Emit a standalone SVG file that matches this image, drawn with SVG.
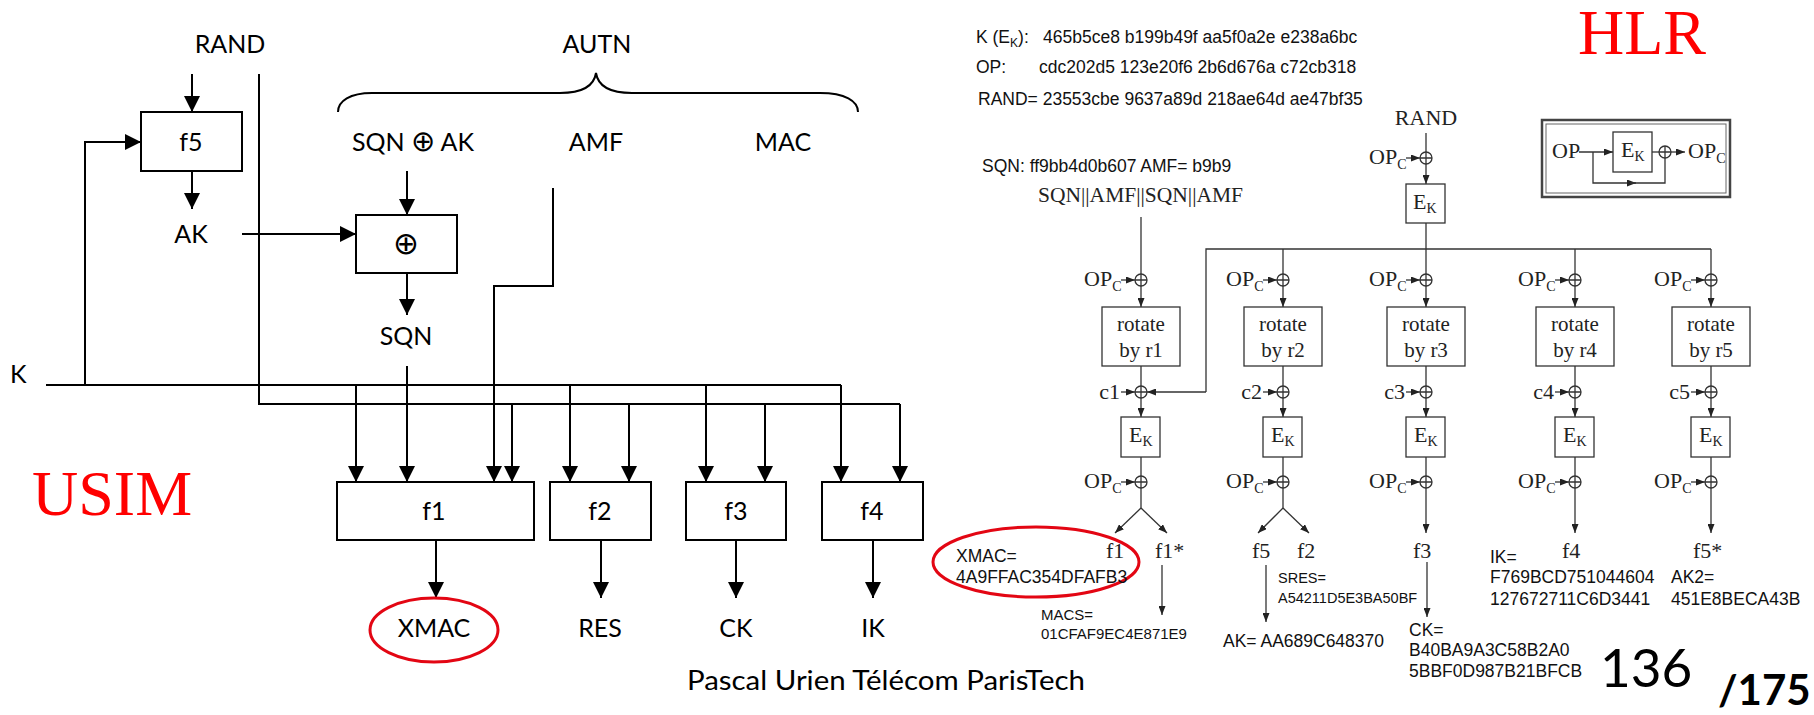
<svg xmlns="http://www.w3.org/2000/svg" width="1814" height="715" viewBox="0 0 1814 715">
<defs>
<marker id="ah" viewBox="0 0 16 16" refX="16" refY="8" markerWidth="16" markerHeight="16" markerUnits="userSpaceOnUse" orient="auto"><path d="M0,0 L16,8 L0,16 z" fill="#000"/></marker>
<marker id="as" viewBox="0 0 9 7" refX="9" refY="3.5" markerWidth="9" markerHeight="7" markerUnits="userSpaceOnUse" orient="auto"><path d="M0,0 L9,3.5 L0,7 z" fill="#222"/></marker>
<g id="xo"><circle cx="0" cy="0" r="6" fill="#fff" stroke="#333" stroke-width="1.3"/><path d="M-6,0 H6 M0,-6 V6" stroke="#333" stroke-width="1.3"/></g>
</defs>
<style>
.L{stroke:#000;stroke-width:2;fill:none}
.R{stroke:#333;stroke-width:1.3;fill:none}
.box{fill:#fff;stroke:#000;stroke-width:2}
.rbox{fill:#fff;stroke:#333;stroke-width:1.3}
.cal{font-family:Lato,"DejaVu Sans",sans-serif;font-size:25px;fill:#000}
.sym{font-family:"DejaVu Sans",sans-serif;font-weight:200}
.tm{font-family:"Liberation Serif","Times New Roman",serif;font-size:22px;fill:#222}
.sub{font-size:14px}
.ar{font-family:"Liberation Sans",Arial,sans-serif;font-size:17.5px;fill:#111}
.red{font-family:"Liberation Serif","Times New Roman",serif;font-size:64px;fill:#f00}
.ell{fill:none;stroke:#e30613;stroke-width:3}
</style>
<rect width="1814" height="715" fill="#fff"/>

<!-- ================= LEFT: USIM ================= -->
<g id="connectors-left">
<path class="L" d="M192,74 V112" marker-end="url(#ah)"/>
<path class="L" d="M192,171 V209" marker-end="url(#ah)"/>
<path class="L" d="M242,234 H356" marker-end="url(#ah)"/>
<path class="L" d="M85,385 V142 H141" marker-end="url(#ah)"/>
<path class="L" d="M46,385 H841"/>
<path class="L" d="M259,74 V404 H900"/>
<path class="L" d="M407,171 V215" marker-end="url(#ah)"/>
<path class="L" d="M407,273 V315" marker-end="url(#ah)"/>
<path class="L" d="M407,366 V482" marker-end="url(#ah)"/>
<path class="L" d="M553,188 V286 H494 V482" marker-end="url(#ah)"/>
<path class="L" d="M356,385 V482" marker-end="url(#ah)"/>
<path class="L" d="M570,385 V482" marker-end="url(#ah)"/>
<path class="L" d="M706,385 V482" marker-end="url(#ah)"/>
<path class="L" d="M841,385 V482" marker-end="url(#ah)"/>
<path class="L" d="M512,404 V482" marker-end="url(#ah)"/>
<path class="L" d="M629,404 V482" marker-end="url(#ah)"/>
<path class="L" d="M765,404 V482" marker-end="url(#ah)"/>
<path class="L" d="M900,404 V482" marker-end="url(#ah)"/>
<path class="L" d="M436,540 V598" marker-end="url(#ah)"/>
<path class="L" d="M601,540 V598" marker-end="url(#ah)"/>
<path class="L" d="M736,540 V598" marker-end="url(#ah)"/>
<path class="L" d="M873,540 V598" marker-end="url(#ah)"/>
<path class="L" d="M338,112 C338,101 350,93 372,93 L560,93 C582,93 594,86 596,73 C598,86 610,93 632,93 L820,93 C845,93 858,101 858,112" stroke-width="2"/>
</g>

<g id="usim-labels">
<text class="cal" x="230" y="53" text-anchor="middle">RAND</text>
<text class="cal" x="597" y="53" text-anchor="middle">AUTN</text>
<text class="cal" x="413" y="151" text-anchor="middle">SQN <tspan class="sym" style="font-size:29px">⊕</tspan> AK</text>
<text class="cal" x="596" y="151" text-anchor="middle">AMF</text>
<text class="cal" x="783" y="151" text-anchor="middle">MAC</text>
<text class="cal" x="191" y="243" text-anchor="middle">AK</text>
<text class="cal" x="406" y="345" text-anchor="middle">SQN</text>
<text class="cal" x="10" y="383">K</text>
<text class="red" x="32" y="515">USIM</text>
</g>

<g id="f5"><rect class="box" x="141" y="112" width="101" height="59"/><text class="cal" x="191" y="151" text-anchor="middle">f5</text></g>
<g id="xor"><rect class="box" x="356" y="215" width="101" height="58"/><text class="cal sym" x="406" y="254" text-anchor="middle" style="font-size:31px">⊕</text></g>
<g id="f1"><rect class="box" x="337" y="482" width="197" height="58"/><text class="cal" x="434" y="520" text-anchor="middle">f1</text></g>
<g id="f2"><rect class="box" x="550" y="482" width="101" height="58"/><text class="cal" x="600" y="520" text-anchor="middle">f2</text></g>
<g id="f3"><rect class="box" x="686" y="482" width="100" height="58"/><text class="cal" x="736" y="520" text-anchor="middle">f3</text></g>
<g id="f4"><rect class="box" x="822" y="482" width="101" height="58"/><text class="cal" x="872" y="520" text-anchor="middle">f4</text></g>
<g id="xmac"><ellipse class="ell" cx="434" cy="630" rx="64" ry="32"/><text class="cal" x="434" y="637" text-anchor="middle">XMAC</text></g>
<g id="res"><text class="cal" x="600" y="637" text-anchor="middle">RES</text></g>
<g id="ck"><text class="cal" x="736" y="637" text-anchor="middle">CK</text></g>
<g id="ik"><text class="cal" x="873" y="637" text-anchor="middle">IK</text></g>

<!-- ================= RIGHT: HLR ================= -->
<g id="hlr-params">
<text class="red" x="1578" y="54">HLR</text>
<text class="ar" x="976" y="43">K (E<tspan font-size="12" dy="4">K</tspan><tspan dy="-4">):</tspan></text>
<text class="ar" x="1043" y="43">465b5ce8 b199b49f aa5f0a2e e238a6bc</text>
<text class="ar" x="976" y="73">OP:</text>
<text class="ar" x="1039" y="73">cdc202d5 123e20f6 2b6d676a c72cb318</text>
<text class="ar" x="978" y="105">RAND= 23553cbe 9637a89d 218ae64d ae47bf35</text>
<text class="ar" x="982" y="172">SQN: ff9bb4d0b607 AMF= b9b9</text>
<text class="tm" x="1038" y="202" style="font-size:21.5px">SQN||AMF||SQN||AMF</text>
<text class="tm" x="1426" y="125" text-anchor="middle">RAND</text>
</g>

<g id="connectors-right">
<path class="R" d="M1426,133 V152"/>
<path class="R" d="M1406,158 H1420" marker-end="url(#as)"/>
<path class="R" d="M1426,164 V184" marker-end="url(#as)"/>
<path class="R" d="M1426,223 V274"/>
<path class="R" d="M1141,217 V274"/>
<path class="R" d="M1206,392 V249 H1711"/>
<path class="R" d="M1206,392 H1147" marker-end="url(#as)"/>
<path class="R" d="M1283,249 V274"/>
<path class="R" d="M1575,249 V274"/>
<path class="R" d="M1711,249 V274"/>
<path class="R" d="M1121,280 H1135" marker-end="url(#as)"/>
<path class="R" d="M1263,280 H1277" marker-end="url(#as)"/>
<path class="R" d="M1406,280 H1420" marker-end="url(#as)"/>
<path class="R" d="M1555,280 H1569" marker-end="url(#as)"/>
<path class="R" d="M1691,280 H1705" marker-end="url(#as)"/>
<path class="R" d="M1141,286 V307" marker-end="url(#as)"/>
<path class="R" d="M1283,286 V307" marker-end="url(#as)"/>
<path class="R" d="M1426,286 V307" marker-end="url(#as)"/>
<path class="R" d="M1575,286 V307" marker-end="url(#as)"/>
<path class="R" d="M1711,286 V307" marker-end="url(#as)"/>
<path class="R" d="M1141,366 V386 M1283,366 V386 M1426,366 V386 M1575,366 V386 M1711,366 V386"/>
<path class="R" d="M1121,392 H1135" marker-end="url(#as)"/>
<path class="R" d="M1263,392 H1277" marker-end="url(#as)"/>
<path class="R" d="M1406,392 H1420" marker-end="url(#as)"/>
<path class="R" d="M1555,392 H1569" marker-end="url(#as)"/>
<path class="R" d="M1691,392 H1705" marker-end="url(#as)"/>
<path class="R" d="M1141,398 V417" marker-end="url(#as)"/>
<path class="R" d="M1283,398 V417" marker-end="url(#as)"/>
<path class="R" d="M1426,398 V417" marker-end="url(#as)"/>
<path class="R" d="M1575,398 V417" marker-end="url(#as)"/>
<path class="R" d="M1711,398 V417" marker-end="url(#as)"/>
<path class="R" d="M1141,457 V476 M1283,457 V476 M1426,457 V476 M1575,457 V476 M1711,457 V476"/>
<path class="R" d="M1121,482 H1135" marker-end="url(#as)"/>
<path class="R" d="M1263,482 H1277" marker-end="url(#as)"/>
<path class="R" d="M1406,482 H1420" marker-end="url(#as)"/>
<path class="R" d="M1555,482 H1569" marker-end="url(#as)"/>
<path class="R" d="M1691,482 H1705" marker-end="url(#as)"/>
<path class="R" d="M1141,488 V508 M1283,488 V508"/>
<path class="R" d="M1141,508 L1115,533" marker-end="url(#as)"/>
<path class="R" d="M1141,508 L1167,533" marker-end="url(#as)"/>
<path class="R" d="M1283,508 L1258,533" marker-end="url(#as)"/>
<path class="R" d="M1283,508 L1309,533" marker-end="url(#as)"/>
<path class="R" d="M1426,488 V533" marker-end="url(#as)"/>
<path class="R" d="M1575,488 V533" marker-end="url(#as)"/>
<path class="R" d="M1711,488 V533" marker-end="url(#as)"/>
<path class="R" d="M1162,565 V615" marker-end="url(#as)"/>
<path class="R" d="M1266,565 V622" marker-end="url(#as)"/>
<path class="R" d="M1427,562 V617" marker-end="url(#as)"/>
</g>

<g id="xor-nodes">
<use href="#xo" x="1426" y="158"/>
<use href="#xo" x="1141" y="280"/><use href="#xo" x="1283" y="280"/><use href="#xo" x="1426" y="280"/><use href="#xo" x="1575" y="280"/><use href="#xo" x="1711" y="280"/>
<use href="#xo" x="1141" y="392"/><use href="#xo" x="1283" y="392"/><use href="#xo" x="1426" y="392"/><use href="#xo" x="1575" y="392"/><use href="#xo" x="1711" y="392"/>
<use href="#xo" x="1141" y="482"/><use href="#xo" x="1283" y="482"/><use href="#xo" x="1426" y="482"/><use href="#xo" x="1575" y="482"/><use href="#xo" x="1711" y="482"/>
</g>

<g id="opc-labels" class="tm">
<text x="1369" y="164">OP<tspan class="sub" dy="5">C</tspan></text>
<text x="1084" y="286">OP<tspan class="sub" dy="5">C</tspan></text>
<text x="1226" y="286">OP<tspan class="sub" dy="5">C</tspan></text>
<text x="1369" y="286">OP<tspan class="sub" dy="5">C</tspan></text>
<text x="1518" y="286">OP<tspan class="sub" dy="5">C</tspan></text>
<text x="1654" y="286">OP<tspan class="sub" dy="5">C</tspan></text>
<text x="1084" y="488">OP<tspan class="sub" dy="5">C</tspan></text>
<text x="1226" y="488">OP<tspan class="sub" dy="5">C</tspan></text>
<text x="1369" y="488">OP<tspan class="sub" dy="5">C</tspan></text>
<text x="1518" y="488">OP<tspan class="sub" dy="5">C</tspan></text>
<text x="1654" y="488">OP<tspan class="sub" dy="5">C</tspan></text>
<text x="1120" y="399" text-anchor="end">c1</text>
<text x="1262" y="399" text-anchor="end">c2</text>
<text x="1405" y="399" text-anchor="end">c3</text>
<text x="1554" y="399" text-anchor="end">c4</text>
<text x="1690" y="399" text-anchor="end">c5</text>
</g>

<g id="ek-top"><rect class="rbox" x="1406" y="184" width="39" height="39"/><text class="tm" x="1413" y="209">E<tspan class="sub" dy="4">K</tspan></text></g>

<g id="rot1"><rect class="rbox" x="1102" y="307" width="78" height="59"/><text class="tm" x="1141" y="331" text-anchor="middle" style="font-size:21px">rotate</text><text class="tm" x="1141" y="357" text-anchor="middle" style="font-size:21px">by r1</text></g>
<g id="rot2"><rect class="rbox" x="1244" y="307" width="78" height="59"/><text class="tm" x="1283" y="331" text-anchor="middle" style="font-size:21px">rotate</text><text class="tm" x="1283" y="357" text-anchor="middle" style="font-size:21px">by r2</text></g>
<g id="rot3"><rect class="rbox" x="1387" y="307" width="78" height="59"/><text class="tm" x="1426" y="331" text-anchor="middle" style="font-size:21px">rotate</text><text class="tm" x="1426" y="357" text-anchor="middle" style="font-size:21px">by r3</text></g>
<g id="rot4"><rect class="rbox" x="1536" y="307" width="78" height="59"/><text class="tm" x="1575" y="331" text-anchor="middle" style="font-size:21px">rotate</text><text class="tm" x="1575" y="357" text-anchor="middle" style="font-size:21px">by r4</text></g>
<g id="rot5"><rect class="rbox" x="1672" y="307" width="78" height="59"/><text class="tm" x="1711" y="331" text-anchor="middle" style="font-size:21px">rotate</text><text class="tm" x="1711" y="357" text-anchor="middle" style="font-size:21px">by r5</text></g>

<g id="ek1"><rect class="rbox" x="1121" y="417" width="39" height="40"/><text class="tm" x="1129" y="442">E<tspan class="sub" dy="4">K</tspan></text></g>
<g id="ek2"><rect class="rbox" x="1263" y="417" width="39" height="40"/><text class="tm" x="1271" y="442">E<tspan class="sub" dy="4">K</tspan></text></g>
<g id="ek3"><rect class="rbox" x="1406" y="417" width="39" height="40"/><text class="tm" x="1414" y="442">E<tspan class="sub" dy="4">K</tspan></text></g>
<g id="ek4"><rect class="rbox" x="1555" y="417" width="39" height="40"/><text class="tm" x="1563" y="442">E<tspan class="sub" dy="4">K</tspan></text></g>
<g id="ek5"><rect class="rbox" x="1691" y="417" width="39" height="40"/><text class="tm" x="1699" y="442">E<tspan class="sub" dy="4">K</tspan></text></g>

<g id="inset">
<rect x="1542" y="120" width="188" height="77" fill="none" stroke="#444" stroke-width="2.5"/>
<rect x="1546" y="124" width="180" height="69" fill="none" stroke="#666" stroke-width="1"/>
<text class="tm" x="1552" y="158">OP</text>
<path class="R" d="M1579,152 H1613" marker-end="url(#as)"/>
<rect class="rbox" x="1613" y="132" width="39" height="40"/>
<text class="tm" x="1621" y="157">E<tspan class="sub" dy="4">K</tspan></text>
<path class="R" d="M1652,152 H1659"/>
<path class="R" d="M1593,152 V183 H1636" marker-end="url(#as)"/>
<path class="R" d="M1630,183 H1665 V158"/>
<use href="#xo" x="1665" y="152"/>
<path class="R" d="M1671,152 H1685" marker-end="url(#as)"/>
<text class="tm" x="1688" y="158">OP<tspan class="sub" dy="5">C</tspan></text>
</g>

<g id="outputs-right">
<text class="tm" x="1106" y="558">f1</text>
<text class="tm" x="1155" y="558">f1*</text>
<text class="tm" x="1252" y="558">f5</text>
<text class="tm" x="1297" y="558">f2</text>
<text class="tm" x="1413" y="558">f3</text>
<text class="tm" x="1562" y="558">f4</text>
<text class="tm" x="1693" y="558">f5*</text>
</g>

<g id="xmac-hlr"><ellipse class="ell" cx="1036" cy="562" rx="103" ry="35"/>
<text class="ar" x="956" y="562">XMAC=</text><text class="ar" x="956" y="583">4A9FFAC354DFAFB3</text></g>
<g id="macs"><text class="ar" x="1041" y="620" style="font-size:15px">MACS=</text><text class="ar" x="1041" y="639" style="font-size:15px">01CFAF9EC4E871E9</text></g>
<g id="sres"><text class="ar" x="1278" y="583" style="font-size:14.5px">SRES=</text><text class="ar" x="1278" y="603" style="font-size:14.5px">A54211D5E3BA50BF</text></g>
<g id="ak"><text class="ar" x="1223" y="647">AK= AA689C648370</text></g>
<g id="ckv"><text class="ar" x="1409" y="636">CK=</text><text class="ar" x="1409" y="656">B40BA9A3C58B2A0</text><text class="ar" x="1409" y="677">5BBF0D987B21BFCB</text></g>
<g id="ikv"><text class="ar" x="1490" y="563">IK=</text><text class="ar" x="1490" y="583">F769BCD751044604</text><text class="ar" x="1490" y="605">127672711C6D3441</text></g>
<g id="ak2"><text class="ar" x="1671" y="583">AK2=</text><text class="ar" x="1671" y="605">451E8BECA43B</text></g>

<g id="footer">
<text class="cal" x="687" y="690" style="font-size:26px" textLength="398" lengthAdjust="spacingAndGlyphs">Pascal Urien Télécom ParisTech</text>
<text class="cal" x="1600" y="687" style="font-size:53px">136</text>
<text class="cal" x="1718" y="705" style="font-size:42px;font-weight:bold">/175</text>
</g>
</svg>
